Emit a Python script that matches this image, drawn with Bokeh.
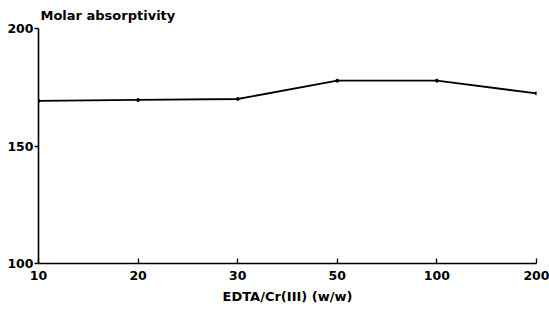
from bokeh.plotting import figure
from bokeh.models import Range1d, FixedTicker
from bokeh.embed import file_html
from bokeh.resources import INLINE

# data
ratios = ["10", "20", "30", "50", "100", "200"]
molar_abs = [169.2, 169.6, 170.0, 177.8, 177.8, 172.4]
y_ticks = [100, 150, 200]
x_title = "EDTA/Cr(III) (w/w)"
y_title = "Molar absorptivity"

FONT = "DejaVu Sans"
xs = list(range(len(ratios)))

p = figure(width=549, height=311, output_backend="svg", toolbar_location=None,
           x_range=Range1d(xs[0], xs[-1]), y_range=Range1d(100, 200))
p.min_border_left = 38
p.min_border_right = 13
p.min_border_top = 0
p.min_border_bottom = 48
p.outline_line_color = None
p.background_fill_color = "white"
p.border_fill_color = "white"
p.xgrid.visible = False
p.ygrid.visible = False

p.title.text = y_title
p.title.text_font = FONT
p.title.text_font_size = "13px"
p.title.text_font_style = "bold"
p.title.text_color = "black"
p.title.align = "left"
p.title.standoff = 11
p.title.offset = 2

p.line(xs, molar_abs, line_color="black", line_width=1.8)
p.scatter(xs, molar_abs, size=3, color="black")

xa = p.xaxis[0]
xa.ticker = FixedTicker(ticks=xs)
xa.major_label_overrides = {i: r for i, r in zip(xs, ratios)}
xa.minor_tick_line_color = None
xa.axis_label = x_title
xa.axis_label_text_font = FONT
xa.axis_label_text_font_size = "13px"
xa.axis_label_text_font_style = "bold"
xa.axis_label_text_color = "black"
xa.axis_label_standoff = 6
xa.major_label_text_font = FONT
xa.major_label_text_font_size = "12.5px"
xa.major_label_text_font_style = "bold"
xa.major_label_standoff = 7
xa.major_tick_in = 5
xa.major_tick_out = 0
xa.axis_line_width = 1.6
xa.major_tick_line_width = 1.3
xa.axis_line_color = "black"
xa.major_label_text_color = "black"

ya = p.yaxis[0]
ya.ticker = FixedTicker(ticks=y_ticks)
ya.major_label_text_font = FONT
ya.major_label_text_font_size = "12.5px"
ya.major_label_text_font_style = "bold"
ya.major_label_standoff = 1
ya.major_tick_in = 0
ya.major_tick_out = 4
ya.minor_tick_line_color = None
ya.axis_line_width = 1.6
ya.major_tick_line_width = 1.3
ya.axis_line_color = "black"
ya.major_label_text_color = "black"

open("out.html", "w").write(file_html(p, INLINE))
